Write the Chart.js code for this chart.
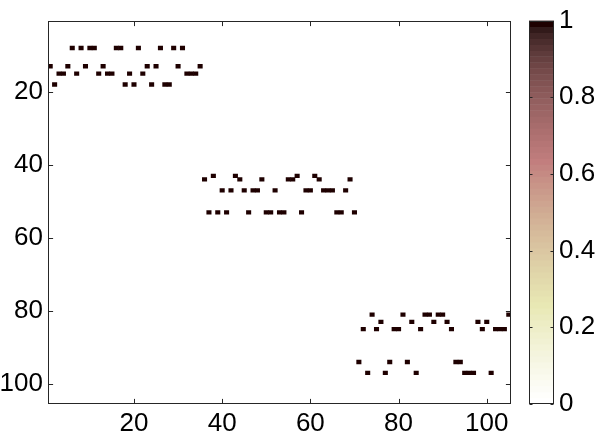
<!DOCTYPE html>
<html><head><meta charset="utf-8">
<script src="https://cdn.jsdelivr.net/npm/chart.js@4/dist/chart.umd.min.js"></script>
<style>
html,body{margin:0;padding:0;background:#fff;}
#wrap{position:relative;width:598px;height:437px;overflow:hidden;}
#main{position:absolute;left:0;top:0;}
#cbar{position:absolute;left:520px;top:0;}
</style></head><body>
<div id="wrap"><canvas id="main" width="520" height="437"></canvas><canvas id="cbar" width="78" height="437"></canvas></div>
<script>
// ---- data: nonzero cells of a 105x105 matrix (value 1), by row ----
const matrixSize = 105;
const rowIndex = [8, 13, 15, 18, 43, 44, 47, 53, 81, 83, 85, 94, 97];
const row8  = [6, 8, 10, 11, 16, 17, 21, 26, 29, 31];
const row13 = [1, 5, 9, 13, 23, 25, 30, 35];
const row15 = [3, 4, 7, 12, 14, 15, 19, 22, 32, 33, 34];
const row18 = [2, 18, 20, 24, 27, 28];
const row43 = [38, 43, 57, 61];
const row44 = [36, 44, 49, 55, 56, 62, 69];
const row47 = [40, 42, 45, 47, 48, 52, 59, 60, 63, 64, 65, 68];
const row53 = [37, 39, 41, 46, 50, 51, 53, 54, 58, 66, 67, 70];
const row81 = [74, 81, 86, 87, 89, 90, 105];
const row83 = [76, 83, 88, 91, 98, 100];
const row85 = [72, 75, 79, 80, 85, 92, 99, 102, 103, 104];
const row94 = [71, 78, 82, 93, 94];
const row97 = [73, 77, 84, 95, 96, 97, 101];
const colsByRow = [row8, row13, row15, row18, row43, row44, row47, row53, row81, row83, row85, row94, row97];
const cellValue = 1;
const xTicks = [20, 40, 60, 80, 100];
const yTicks = [20, 40, 60, 80, 100];
const cbarTicks = [0, 0.2, 0.4, 0.6, 0.8, 1];
const cmapLevels = 64;

// ---- flipped MATLAB "pink" colormap ----
function pinkMap(m) {
  const n = Math.floor(3 / 8 * m);
  const out = [];
  for (let i = 0; i < m; i++) {
    const g = i / (m - 1);
    const rh = i < n ? (i + 1) / n : 1;
    const gh = i < n ? 0 : (i < 2 * n ? (i - n + 1) / n : 1);
    const bh = i < 2 * n ? 0 : (i - 2 * n + 1) / (m - 2 * n);
    const f = v => Math.round(Math.sqrt((2 * g + v) / 3) * 255);
    out.push(`rgb(${f(rh)},${f(gh)},${f(bh)})`);
  }
  return out;
}
const pink = pinkMap(cmapLevels);
const colorFor = v => pink[cmapLevels - 1 - Math.round(v * (cmapLevels - 1))];

const FONT = {family: "'Liberation Sans', Arial, sans-serif", size: 26};
const AXC = '#262626';
const tickLen = 4.6;

const cells = [];
rowIndex.forEach((r, k) => colsByRow[k].forEach(c => cells.push({x: [c - 0.5, c + 0.5], y: r})));

const boxPlugin = {
  id: 'box',
  afterDraw(chart) {
    const {ctx, chartArea: a, scales: {x, y}} = chart;
    ctx.save();
    ctx.strokeStyle = AXC; ctx.lineWidth = 1;
    const L = Math.round(a.left) + 0.5, R = Math.round(a.right) - 0.5, T = Math.round(a.top) + 0.5, B = Math.round(a.bottom) - 0.5;
    ctx.strokeRect(L, T, R - L, B - T);
    ctx.beginPath();
    xTicks.forEach(v => {
      const px = Math.round(x.getPixelForValue(v)) + 0.5;
      ctx.moveTo(px, B); ctx.lineTo(px, B - tickLen);
      ctx.moveTo(px, T); ctx.lineTo(px, T + tickLen);
    });
    yTicks.forEach(v => {
      const py = Math.round(y.getPixelForValue(v)) + 0.5;
      ctx.moveTo(L, py); ctx.lineTo(L + tickLen, py);
      ctx.moveTo(R, py); ctx.lineTo(R - tickLen, py);
    });
    ctx.stroke();
    ctx.restore();
  }
};

new Chart(document.getElementById('main'), {
  type: 'bar',
  data: {datasets: [{data: cells, backgroundColor: colorFor(cellValue), borderWidth: 0,
    categoryPercentage: 1, barPercentage: 1}]},
  options: {
    indexAxis: 'y', responsive: false, animation: false,
    layout: {padding: {top: 19, right: 9, left: 0, bottom: 0}},
    plugins: {legend: {display: false}, tooltip: {enabled: false}},
    scales: {
      x: {type: 'linear', min: 0.5, max: matrixSize + 0.5, offset: false,
        grid: {display: false, drawTicks: false}, border: {display: false},
        afterBuildTicks: s => { s.ticks = xTicks.map(v => ({value: v})); },
        afterFit: s => { s.height = 33; },
        ticks: {padding: 4, font: FONT, color: '#000', maxRotation: 0, autoSkip: false}},
      y: {type: 'linear', reverse: true, min: 0.5, max: matrixSize + 0.5, offset: false,
        grid: {display: false, drawTicks: false}, border: {display: false},
        afterBuildTicks: s => { s.ticks = yTicks.map(v => ({value: v})); },
        afterFit: s => { s.width = 48; },
        ticks: {padding: 5, font: FONT, color: '#000', autoSkip: false}}
    }
  },
  plugins: [boxPlugin]
});

// ---- colorbar ----
const cbData = [], cbColors = [];
for (let i = 0; i < cmapLevels; i++) {
  cbData.push({x: 'cb', y: [i / cmapLevels, (i + 1) / cmapLevels]});
  cbColors.push(pink[cmapLevels - 1 - i]);
}
const cbarBox = {
  id: 'cbox',
  afterDraw(chart) {
    const {ctx, chartArea: a, scales: {y}} = chart;
    ctx.save();
    ctx.strokeStyle = AXC; ctx.lineWidth = 1;
    const L = Math.round(a.left) + 0.5, R = Math.round(a.right) - 0.5, T = Math.round(a.top) + 0.5, B = Math.round(a.bottom) - 0.5;
    ctx.strokeRect(L, T, R - L, B - T);
    ctx.beginPath();
    cbarTicks.forEach(v => {
      const py = Math.round(y.getPixelForValue(v)) + 0.5;
      ctx.moveTo(L, py); ctx.lineTo(L + 3, py);
      ctx.moveTo(R, py); ctx.lineTo(R - 3, py);
    });
    ctx.stroke();
    ctx.restore();
  }
};
new Chart(document.getElementById('cbar'), {
  type: 'bar',
  data: {labels: ['cb'], datasets: [{data: cbData, backgroundColor: cbColors, borderWidth: 0,
    categoryPercentage: 1, barPercentage: 1}]},
  options: {
    responsive: false, animation: false,
    layout: {padding: {top: 19, bottom: 33, left: 9, right: 0}},
    plugins: {legend: {display: false}, tooltip: {enabled: false}},
    scales: {
      x: {display: false},
      y: {position: 'right', min: 0, max: 1,
        grid: {display: false, drawTicks: false}, border: {display: false},
        afterBuildTicks: s => { s.ticks = cbarTicks.map(v => ({value: v})); },
        afterFit: s => { s.width = 44; },
        ticks: {padding: 5, font: FONT, color: '#000', autoSkip: false, callback: v => String(v)}}
    }
  },
  plugins: [cbarBox]
});
</script>
</body></html>
